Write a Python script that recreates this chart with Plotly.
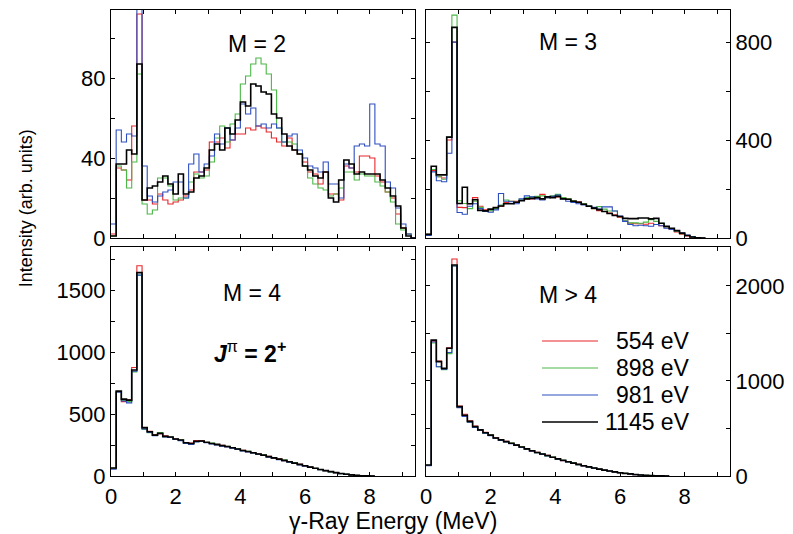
import plotly.graph_objects as go

BIN_WIDTH = 0.16  # MeV
series_names = ["554 eV", "898 eV", "981 eV", "1145 eV"]
series_colors = ["#e8262b", "#4cb848", "#2e4fbf", "#000000"]
series_widths = [1.1, 1.1, 1.1, 1.6]

# ---- M = 2 ----
m2_554 = [2, 35, 34, 29, 56, 112, 19, 19, 17, 22, 19, 17, 18, 19, 21, 24, 33, 33, 34, 48,
          48, 50, 45, 49, 52, 52, 55, 54, 56, 55, 53, 50, 48, 46, 50, 44, 42, 38, 33, 32,
          27, 33, 22, 22, 19, 36, 35, 33, 41, 41, 40, 31, 28, 23, 20, 12, 5, 2, 0]
m2_898 = [1, 36, 34, 25, 38, 82, 17, 12, 14, 30, 30, 26, 19, 20, 20, 28, 32, 30, 31, 38,
          50, 56, 48, 57, 62, 77, 81, 87, 90, 87, 82, 74, 55, 48, 48, 47, 42, 36, 30, 27,
          25, 24, 21, 22, 25, 33, 33, 29, 32, 31, 31, 28, 26, 23, 18, 7, 4, 2, 0]
m2_981 = [7, 54, 48, 52, 51, 125, 36, 21, 18, 21, 23, 24, 28, 28, 20, 37, 42, 33, 37, 41,
          52, 47, 55, 49, 55, 67, 62, 65, 56, 57, 55, 57, 55, 48, 51, 52, 44, 40, 36, 35,
          33, 38, 27, 27, 20, 37, 35, 46, 47, 46, 67, 47, 46, 28, 25, 15, 7, 2, 0]
m2_1145 = [1, 37, 37, 44, 42, 87, 19, 25, 26, 28, 31, 27, 22, 32, 22, 23, 30, 31, 35, 44,
           47, 44, 55, 52, 59, 68, 66, 77, 76, 73, 72, 62, 60, 52, 46, 44, 42, 36, 34, 31,
           30, 33, 20, 18, 29, 39, 37, 32, 33, 32, 32, 32, 29, 25, 21, 16, 5, 1, 0]

# ---- M = 3 ----
m3_554 = [15, 275, 250, 245, 400, 800, 125, 124, 140, 165, 130, 115, 112, 120, 130, 145, 150, 150, 155, 160,
          160, 168, 178, 165, 170, 168, 165, 158, 152, 148, 140, 132, 120, 112, 108, 102, 95, 85, 70, 60,
          58, 58, 56, 60, 55, 50, 42, 35, 25, 16, 8, 3, 1, 0]
m3_898 = [15, 280, 250, 240, 412, 910, 152, 141, 120, 150, 125, 110, 112, 120, 135, 155, 150, 145, 158, 165,
          168, 170, 172, 165, 172, 178, 165, 160, 152, 145, 140, 132, 120, 128, 118, 110, 110, 88, 70, 62,
          62, 60, 65, 75, 68, 60, 45, 38, 28, 18, 10, 4, 1, 0]
m3_981 = [10, 270, 234, 230, 346, 800, 104, 97, 130, 140, 120, 108, 105, 115, 182, 150, 148, 140, 160, 172,
          168, 160, 155, 165, 170, 175, 160, 150, 145, 140, 135, 130, 125, 118, 127, 127, 110, 90, 68, 55,
          50, 52, 50, 48, 55, 50, 40, 35, 30, 20, 12, 5, 2, 0]
m3_1145 = [15, 293, 258, 258, 412, 860, 141, 207, 140, 156, 113, 111, 118, 124, 131, 140, 140, 146, 152, 160,
           162, 165, 160, 168, 165, 170, 160, 158, 150, 146, 138, 130, 122, 116, 108, 100, 92, 88, 80, 79,
           79, 82, 82, 78, 80, 60, 48, 40, 30, 20, 10, 4, 1, 0]

# ---- M = 4 ----
m4_554 = [60, 680, 600, 615, 875, 1696, 385, 360, 335, 340, 325, 312, 300, 288, 270, 265, 285, 285, 270, 262,
          252, 248, 236, 230, 215, 208, 196, 186, 180, 166, 158, 144, 138, 124, 116, 103, 95, 82, 74, 60,
          52, 42, 36, 26, 20, 13, 9, 4, 2, 1, 0]
m4_898 = [62, 680, 610, 600, 840, 1620, 375, 350, 330, 350, 318, 315, 296, 292, 266, 258, 276, 280, 270, 265,
          252, 244, 240, 226, 220, 204, 200, 186, 176, 170, 154, 148, 134, 128, 113, 106, 92, 85, 70, 63,
          50, 44, 33, 28, 19, 15, 8, 5, 2, 1, 0]
m4_981 = [55, 675, 605, 590, 845, 1620, 380, 352, 325, 342, 315, 310, 295, 285, 262, 255, 275, 278, 268, 258,
          250, 240, 235, 225, 215, 202, 195, 185, 175, 165, 152, 145, 132, 124, 112, 102, 90, 80, 70, 60,
          50, 42, 34, 26, 19, 13, 8, 4, 2, 1, 0]
m4_1145 = [65, 685, 620, 612, 855, 1640, 390, 357, 330, 345, 320, 315, 298, 290, 268, 262, 280, 282, 272, 262,
           255, 245, 238, 228, 218, 206, 198, 188, 178, 168, 156, 146, 136, 126, 115, 104, 94, 83, 72, 62,
           52, 43, 35, 27, 20, 14, 9, 5, 2, 1, 0]

# ---- M > 4 ----
m5_554 = [110, 1420, 1210, 1130, 1350, 2284, 735, 650, 580, 525, 480, 460, 428, 405, 378, 365, 342, 328, 302, 288,
          262, 250, 230, 218, 196, 182, 162, 152, 134, 124, 106, 98, 82, 74, 60, 53, 42, 36, 27, 22,
          15, 11, 6, 4, 2, 1, 0]
m5_898 = [112, 1400, 1150, 1120, 1288, 2210, 725, 630, 570, 515, 488, 450, 432, 398, 382, 360, 348, 322, 308, 282,
          268, 246, 234, 212, 200, 178, 166, 148, 138, 120, 110, 94, 86, 70, 63, 50, 44, 34, 29, 21,
          16, 10, 7, 3, 2, 1, 0]
m5_981 = [108, 1410, 1150, 1125, 1300, 2210, 720, 628, 565, 512, 480, 450, 425, 395, 375, 358, 340, 322, 300, 282,
          262, 245, 228, 212, 195, 178, 162, 148, 134, 120, 106, 94, 82, 70, 60, 50, 42, 34, 27, 21,
          15, 10, 6, 3, 2, 1, 0]
m5_1145 = [116, 1430, 1204, 1133, 1344, 2221, 730, 640, 575, 520, 485, 455, 430, 400, 380, 362, 345, 325, 305, 285,
           265, 248, 232, 215, 198, 180, 165, 150, 136, 122, 108, 96, 84, 72, 62, 52, 43, 35, 28, 22,
           16, 11, 7, 4, 2, 1, 0]

panels = [
    ("M = 2", [m2_554, m2_898, m2_981, m2_1145]),
    ("M = 3", [m3_554, m3_898, m3_981, m3_1145]),
    ("M = 4", [m4_554, m4_898, m4_981, m4_1145]),
    ("M > 4", [m5_554, m5_898, m5_981, m5_1145]),
]

x_major, x_minor = 2, 1
y_major = [40, 400, 500, 1000]
y_minor = [20, 200, 250, 500]
y_ranges = [[0, 114], [0, 931], [0, 1847], [0, 2410]]
x_range = [0, 9.4]

FONT = "Liberation Sans, Arial, sans-serif"
FS = 22

fig = go.Figure()
for p, (title, sers) in enumerate(panels):
    ax = "" if p == 0 else str(p + 1)
    for s, vals in enumerate(sers):
        xs = [i * BIN_WIDTH for i in range(len(vals) + 1)]
        ys = list(vals) + [vals[-1]]
        fig.add_trace(go.Scatter(
            x=xs, y=ys, mode="lines", line_shape="hv",
            line=dict(color=series_colors[s], width=series_widths[s]),
            name=series_names[s], showlegend=False,
            legendgroup=series_names[s],
            xaxis="x" + ax, yaxis="y" + ax,
        ))

xd = [[0, 0.4911], [0.5089, 1.0]]
yd = [[0.5107, 1.0], [0.0, 0.4914]]
layout = dict(
    width=793, height=534,
    margin=dict(l=111, r=63, t=10, b=58, autoexpand=False),
    paper_bgcolor="white", plot_bgcolor="white",
    font=dict(family=FONT, size=FS, color="black"),
    showlegend=False,
)
for p in range(4):
    ax = "" if p == 0 else str(p + 1)
    col = p % 2
    row = p // 2
    common = dict(showline=True, linecolor="black", linewidth=1.3, mirror="allticks",
                  ticks="inside", ticklen=4, tickcolor="black", tickwidth=1,
                  showgrid=False, zeroline=False, automargin=False,
                  tickfont=dict(size=FS, family=FONT))
    xa = dict(common, domain=xd[col], range=x_range, tick0=0, dtick=x_major,
              minor=dict(dtick=x_minor, tick0=0, ticks="inside", ticklen=4,
                         tickcolor="black", tickwidth=1, showgrid=False),
              anchor="y" + ax, showticklabels=(row == 1))
    ya = dict(common, domain=yd[row], range=y_ranges[p], tick0=0, dtick=y_major[p],
              minor=dict(dtick=y_minor[p], tick0=0, ticks="inside", ticklen=4,
                         tickcolor="black", tickwidth=1, showgrid=False),
              anchor="x" + ax, side="right" if col == 1 else "left")
    layout["xaxis" + ax] = xa
    layout["yaxis" + ax] = ya

fig.update_layout(**layout)

ann = [
    dict(text="M = 2", x=4.5, y=97, xref="x", yref="y", size=23),
    dict(text="M = 3", x=4.4, y=800, xref="x2", yref="y2", size=23),
    dict(text="M = 4", x=4.35, y=1476, xref="x3", yref="y3", size=23),
    dict(text="<b><i>J</i></b><sup>π</sup><b> = 2</b><sup><b>+</b></sup>", x=4.3, y=1000,
         xref="x3", yref="y3", size=23),
    dict(text="M > 4", x=4.4, y=1905, xref="x4", yref="y4", size=23),
    dict(text="Intensity (arb. units)", x=-0.137, y=0.575, xref="paper", yref="paper",
         textangle=-90, size=18),
    dict(text="γ-Ray Energy (MeV)", x=0.4556, y=-0.097, xref="paper", yref="paper", size=23),
]
for a in ann:
    size = a.pop("size")
    fig.add_annotation(showarrow=False, font=dict(size=size, family=FONT, color="black"),
                       xanchor="center", yanchor="middle", **a)

# legend drawn inside the M > 4 panel (line samples + right-aligned labels)
leg_x0, leg_x1, leg_tx = 0.6963, 0.7868, 0.9386
leg_rows = [0.2897, 0.2318, 0.1738, 0.1159]
for s in range(4):
    fig.add_shape(type="line", xref="paper", yref="paper",
                  x0=leg_x0, x1=leg_x1, y0=leg_rows[s], y1=leg_rows[s],
                  line=dict(color=series_colors[s], width=series_widths[s]))
    fig.add_annotation(text=series_names[s], xref="paper", yref="paper",
                       x=leg_tx, y=leg_rows[s], xanchor="right", yanchor="middle",
                       showarrow=False, font=dict(size=23, family=FONT, color="black"))

fig.write_html("out.html", config={"displayModeBar": False},
               post_script="document.body.style.margin='0px';")
